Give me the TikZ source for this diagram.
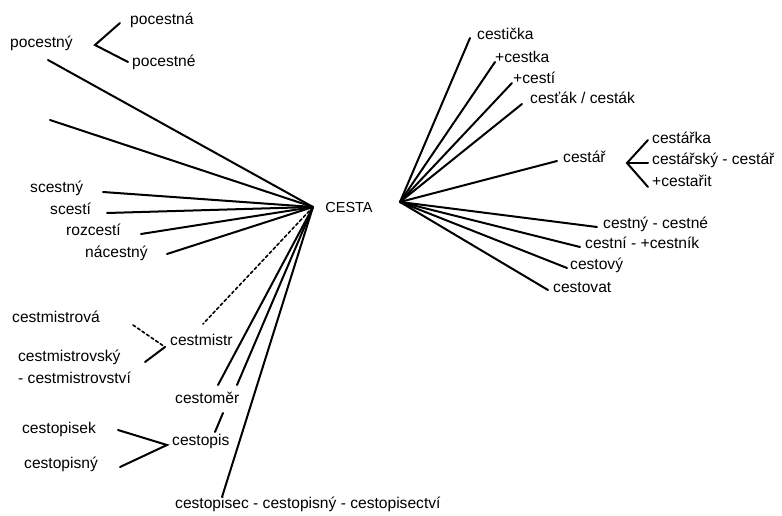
\documentclass[tikz,border=0pt]{standalone}
\usepackage{fontspec}
\setmainfont{Liberation Sans}
\begin{document}
\begin{tikzpicture}[x=1pt,y=-1pt,
  lbl/.style={inner sep=0pt,anchor=mid west,font=\fontsize{15.6}{17}\selectfont},
  ln/.style={line width=2pt,line cap=round},
  dln/.style={line width=1.6pt,line cap=round,dash pattern=on 3pt off 2.5pt}]
\useasboundingbox[fill=white] (0,0) rectangle (782,516);
% hubs
\coordinate (L) at (313,207);
\coordinate (R) at (400,202);
\node[inner sep=0pt,font=\fontsize{14.5}{16}\selectfont] (cesta) at (349,208) {CESTA};
% left labels
\node[lbl] (pocestny) at (10,45) {pocestný};
\node[lbl] (pocestna) at (130,22) {pocestná};
\node[lbl] (pocestne) at (132,64) {pocestné};
\node[lbl] (scestny) at (30,190) {scestný};
\node[lbl] (scesti) at (50,212) {scestí};
\node[lbl] (rozcesti) at (66,233) {rozcestí};
\node[lbl] (nacestny) at (85,255) {nácestný};
\node[lbl] (cmova) at (12,320) {cestmistrová};
\node[lbl] (cmistr) at (170,343) {cestmistr};
\node[lbl] (cmsky) at (18,359) {cestmistrovský};
\node[lbl] (cmstvi) at (18,381) {- cestmistrovství};
\node[lbl] (cmer) at (175,401) {cestoměr};
\node[lbl] (cpisek) at (22,431) {cestopisek};
\node[lbl] (cpis) at (172,443) {cestopis};
\node[lbl] (cpisny) at (24,466) {cestopisný};
\node[lbl] (cpisec) at (175,506) {cestopisec - cestopisný - cestopisectví};
% right labels
\node[lbl] (cesticka) at (477,37) {cestička};
\node[lbl] (cestka) at (495,60) {+cestka};
\node[lbl] (cesti) at (513,81) {+cestí};
\node[lbl] (cestak) at (530,101) {cesťák / cesták};
\node[lbl] (cestar) at (563,160) {cestář};
\node[lbl] (cestarka) at (652,141) {cestářka};
\node[lbl] (cestarsky) at (652,162) {cestářský - cestář};
\node[lbl] (cestarit) at (652,184) {+cestařit};
\node[lbl] (cestny) at (603,226) {cestný - cestné};
\node[lbl] (cestni) at (585,246) {cestní - +cestník};
\node[lbl] (cestovy) at (570,267) {cestový};
\node[lbl] (cestovat) at (553,290) {cestovat};
% free ends on the left
\coordinate (l1) at (48,60);
\coordinate (l2) at (50,120);
\coordinate (l3) at (103,192);
\coordinate (l4) at (107,213);
\coordinate (l5) at (141,234);
\coordinate (l6) at (167,254);
\coordinate (l7) at (203,324);
\coordinate (l8) at (218,385);
\coordinate (l9) at (237,385);
\coordinate (l10) at (222,497);
\foreach \e in {l1,l2,l3,l4,l5,l6,l8,l9,l10} \draw[ln] (L) -- (\e);
\draw[dln] (L) -- (l7);
% free ends on the right
\coordinate (r1) at (470,38);
\coordinate (r2) at (495,62);
\coordinate (r3) at (512,83);
\coordinate (r4) at (522,104);
\coordinate (r5) at (557,161);
\coordinate (r6) at (597,227);
\coordinate (r7) at (580,247);
\coordinate (r8) at (567,268);
\coordinate (r9) at (548,290);
\foreach \e in {r1,r2,r3,r4,r5,r6,r7,r8,r9} \draw[ln] (R) -- (\e);
% brackets
\coordinate (pv) at (95,45);
\draw[ln] (120,23) -- (pv) -- (128,62);
\coordinate (cv) at (627,163);
\draw[ln] (648,140) -- (cv) -- (648,187);
\draw[ln] (cv) -- (648,163);
\coordinate (mv) at (165,347);
\draw[dln] (133,325) -- (mv);
\draw[ln] (mv) -- (145,362);
\coordinate (sv) at (167,445);
\draw[ln] (118,430) -- (sv) -- (120,467);
\draw[ln] (223,413) -- (215,432);
\end{tikzpicture}
\end{document}
